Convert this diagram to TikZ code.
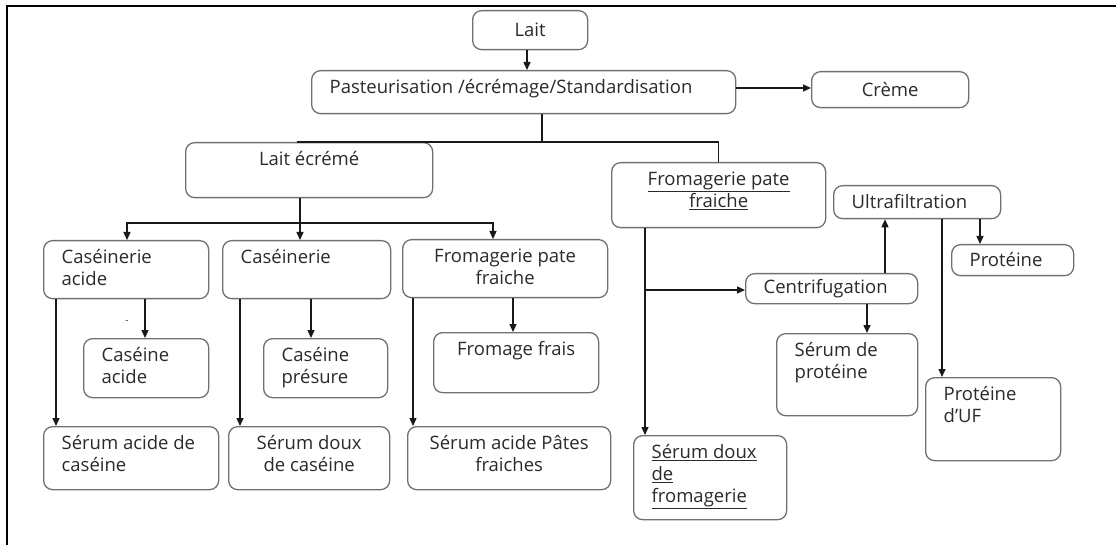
\documentclass[tikz,border=0pt]{standalone}
\usepackage{fontspec}
\setmainfont{Open Sans}
\usetikzlibrary{arrows.meta}
\definecolor{boxgray}{HTML}{707070}
\definecolor{txt}{HTML}{2A2A2A}
\newcommand{\bxt}[3]{\parbox[c][#2pt][t]{\dimexpr#1pt-36pt\relax}{\rule{0pt}{23pt}#3\par}}
\newcommand{\bxc}[3]{\parbox[c][#2pt][c]{\dimexpr#1pt-36pt\relax}{\rule[-1pt]{0pt}{13pt}#3\par}}
\begin{document}
\begin{tikzpicture}[x=1pt,y=-1pt,
  bx/.style={draw=boxgray, line width=1.3pt, rounded corners=9pt, inner xsep=18pt, inner ysep=0pt,
    anchor=north west, text=txt, font=\fontsize{18.5}{22}\selectfont},
  arr/.style={line width=1.4pt, draw=black!90, -{Triangle[length=8pt,width=7pt]}},
  arr2/.style={line width=1.4pt, draw=black!90, {Triangle[length=8pt,width=7pt]}-{Triangle[length=8pt,width=7pt]}},
  ln/.style={line width=1.4pt, draw=black!90}]
\useasboundingbox (0,0) rectangle (1116,545);
\draw[line width=2.2pt] (7,545) -- (7,6) -- (1116,6);
% boxes
\node[bx] (lait) at (472,10) {\bxc{115}{39}{\centering Lait}};
\node[bx] (past) at (311,70) {\bxt{424}{43}{\mbox{Pasteurisation /écrémage/Standardisation}}};
\node[bx] (creme) at (811,71) {\bxc{157}{36}{\centering Crème}};
\node[bx] (lecr) at (185,142) {\bxt{247}{55}{\centering Lait écrémé}};
\node[bx] (frR) at (611,162) {\bxt{214}{65}{\centering\underline{Fromagerie pate}\\\underline{fraiche}}};
\node[bx] (cas1) at (43,240) {\bxt{165}{58}{Caséinerie\\acide}};
\node[bx] (cas2) at (222,240) {\bxt{168}{58}{Caséinerie}};
\node[bx] (fr2) at (402,239) {\bxt{205}{58}{\centering Fromagerie pate\\fraiche}};
\node[bx] (casac) at (83,338) {\bxt{125}{59}{Caséine\\acide}};
\node[bx] (caspr) at (263,338) {\bxt{124}{59}{Caséine\\présure}};
\node[bx] (frais) at (433,332) {\bxt{165}{60}{\centering Fromage frais}};
\node[bx] (serac) at (43,426) {\bxt{175}{63}{\mbox{Sérum acide de}\\caséine}};
\node[bx] (serdx) at (228,426) {\bxt{161}{63}{\centering Sérum doux\\de caséine}};
\node[bx] (serpf) at (407,426) {\bxt{203}{63}{\centering Sérum acide Pâtes\\fraiches}};
\node[bx] (serdf) at (633,435) {\bxt{153}{84}{\underline{Sérum doux}\\\underline{de}\\\underline{fromagerie}}};
\node[bx] (centr) at (745,273) {\bxc{172}{30}{Centrifugation}};
\node[bx] (ultra) at (833,185) {\bxc{167}{33}{Ultrafiltration}};
\node[bx] (prot) at (951,244) {\bxc{122}{31}{Protéine}};
\node[bx] (serpr) at (776,333) {\bxt{141}{82}{Sérum de\\protéine}};
\node[bx] (protuf) at (925,377) {\bxt{135}{83}{Protéine\\d’UF}};
\node[text=txt, font=\fontsize{10}{10}\selectfont, inner sep=0pt] (dash) at (127,322) {-};
% coordinates
\coordinate (xA) at (527,0);
\coordinate (yB) at (0,88);
\coordinate (cC) at (542,142);
\coordinate (cD) at (297,142);
\coordinate (cE) at (300,223);
\coordinate (cF) at (127,223);
\coordinate (cG) at (493,223);
\coordinate (x1) at (145,0);
\coordinate (x2) at (56,0);
\coordinate (x3) at (311,0);
\coordinate (x4) at (240,0);
\coordinate (x5) at (513,0);
\coordinate (x6) at (413,0);
\coordinate (cH) at (645,290);
\coordinate (x7) at (885,0);
\coordinate (x8) at (867,0);
\coordinate (x9) at (980,0);
\coordinate (x10) at (942,0);
% connectors
\draw[arr] (lait.south -| xA) -- (past.north -| xA);
\draw[arr] (past.east |- yB) -- (creme.west |- yB);
\draw[ln] (past.south -| cC) -- (cC);
\draw[ln] (cD) -| (frR.north);
\draw[arr] (lecr.south -| cE) -- (cas2.north -| cE);
\draw[arr2] (cas1.north -| cF) -- (cF) -- (cG) -- (fr2.north -| cG);
\draw[arr] (cas1.south -| x1) -- (casac.north -| x1);
\draw[arr] (cas1.south -| x2) -- (serac.north -| x2);
\draw[arr] (cas2.south -| x3) -- (caspr.north -| x3);
\draw[arr] (cas2.south -| x4) -- (serdx.north -| x4);
\draw[arr] (fr2.south -| x5) -- (frais.north -| x5);
\draw[arr] (fr2.south -| x6) -- (serpf.north -| x6);
\draw[arr] (frR.south -| cH) -- (serdf.north -| cH);
\draw[arr] (cH) -- (centr.west |- cH);
\draw[arr] (centr.north -| x7) -- (ultra.south -| x7);
\draw[arr] (centr.south -| x8) -- (serpr.north -| x8);
\draw[arr] (ultra.south -| x9) -- (prot.north -| x9);
\draw[arr] (ultra.south -| x10) -- (protuf.north -| x10);
\end{tikzpicture}
\end{document}
